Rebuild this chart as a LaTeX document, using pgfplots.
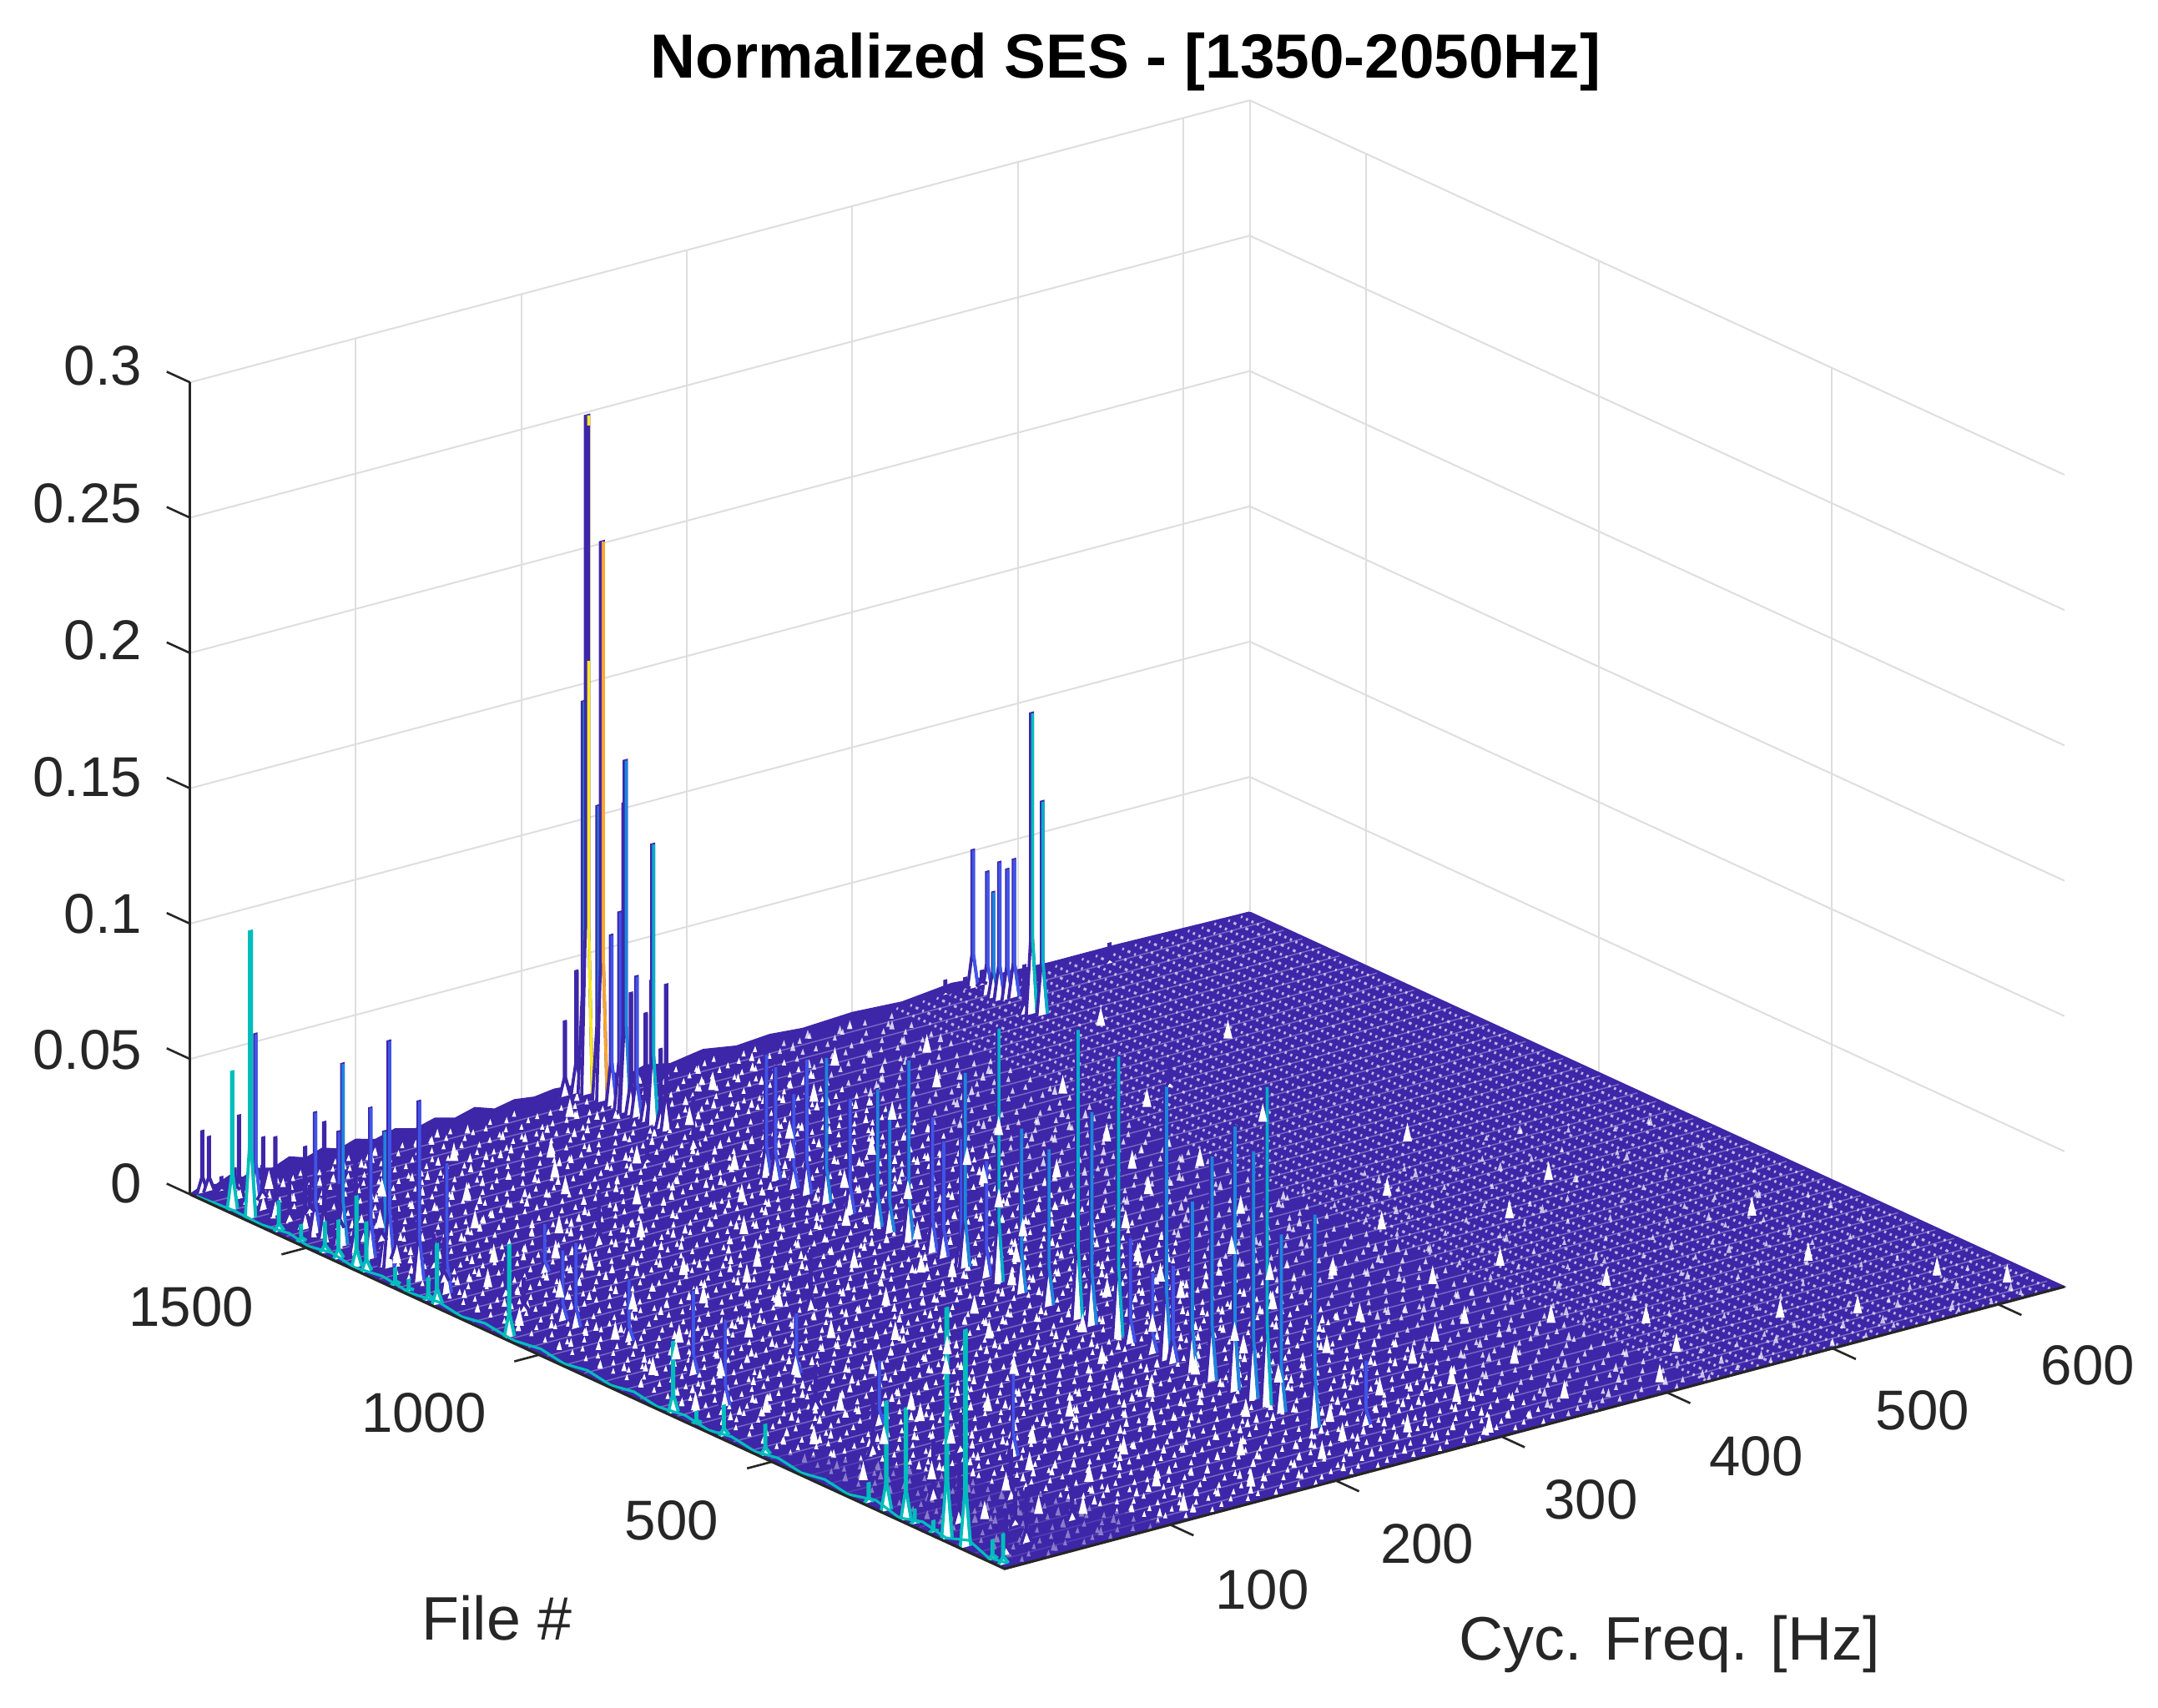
\documentclass[border=0pt]{standalone}
\usepackage{pgfplots}
\pgfplotsset{compat=1.18}
\usetikzlibrary{decorations.markings}
\usepackage{fontspec}
\setmainfont{Liberation Sans}
\definecolor{pur}{HTML}{3E26A8}
\definecolor{blu}{HTML}{3F55E8}
\definecolor{azu}{HTML}{1C86DE}
\definecolor{cya}{HTML}{02AFCB}
\definecolor{tea}{HTML}{00BDBD}
\definecolor{yel}{HTML}{F9E826}
\definecolor{org}{HTML}{F9A530}
\definecolor{axc}{HTML}{262626}
\definecolor{grd}{HTML}{DEDEDE}
% small upright white gaps along a line of constant x (line direction is 155.3 degrees on the page)
\newcommand{\gap}[2]{\fill[white,rotate=-155.3] (0,#1)--(#2,-.45*#1)--(-#2,-.45*#1)--cycle;}
\tikzset{
  f1/.style={dash pattern=on .45pt off .8pt},
  f2/.style={dash pattern=on .35pt off .9pt on .6pt off .85pt},
  gaps/.style n args={4}{postaction={decorate,decoration={markings,mark=between positions #2 and .995 step #1 with {\gap{.85pt}{.44pt}}}},
    postaction={decorate,decoration={markings,mark=between positions #3 and .995 step #4 with {\gap{1.25pt}{.56pt}}}}},
}
\begin{document}
\begin{tikzpicture}
\useasboundingbox (-73mm,-10.1mm) rectangle (83.8mm,114mm);
\begin{axis}[at={(0,0)},anchor=origin,clip=false,
  x={(0.12031mm,0.03203mm)},y={(-0.033829mm,0.015543mm)},z={(0mm,196.67mm)},
  xmin=0,xmax=640,ymin=0,ymax=1750,zmin=0,zmax=0.3,
  xtick={100,200,300,400,500,600},ytick={500,1000,1500},ztick={0,0.05,0.1,0.15,0.2,0.25,0.3},
  xticklabels={},yticklabels={},zticklabels={},
  major tick length=0pt,axis line style={draw=none},
  grid=major,grid style={grd,line width=.35pt}]
% floor
\addplot3[fill=pur,draw=pur,line width=.3pt] coordinates {(0,0,0)(640,0,0)(640,1750,0)(0,1750,0)};
% jagged back edge of the surface
\addplot3[fill=pur,draw=pur,line width=.3pt] coordinates {(0,1750,0)(8,1750,.002)(16,1750,.001)(24,1750,.003)(32,1750,.001)(40,1750,.003)(50,1750,.0015)(60,1750,.004)(70,1750,.002)(80,1750,.004)(90,1750,.002)(100,1750,.004)(112,1750,.002)(124,1750,.004)(136,1750,.002)(148,1750,.004)(160,1750,.002)(172,1750,.004)(184,1750,.0015)(196,1750,.003)(208,1750,.002)(220,1750,.003)(240,1750,.002)(252,1750,.004)(265,1750,.001)(275,1750,.003)(290,1750,.001)(310,1750,.003)(330,1750,.001)(350,1750,.002)(370,1750,.001)(400,1750,.002)(430,1750,.001)(460,1750,.003)(480,1750,.002)(520,1750,.001)(560,1750,.001)(640,1750,0)};
% fine lattice seen through the surface
\foreach \y in {30,70,110,150,190,230,270,310,350,390,430,470,510,550,590,630,670,710,750,790,830,870,910,950,990,1030,1070,1110,1150,1190,1230,1270,1310,1350,1390,1430,1470,1510,1550,1590,1630,1670,1710}{
  \edef\tmp{\noexpand\addplot3[white,opacity=.3,line width=.25pt] coordinates {(2,\y,0)(638,\y,0)};}\tmp}
\foreach \x/\s in {425/f1,433/f2,441/f1,449/f2,457/f1,465/f2,473/f1,481/f2,489/f1,497/f2,505/f1,513/f2,521/f1,529/f2,537/f1,545/f2,553/f1,561/f2,569/f1,577/f2,585/f1,593/f2,601/f1,609/f2,617/f1,625/f2,633/f1}{
  \edef\tmp{\noexpand\addplot3[white,opacity=.65,line width=.55pt,\s] coordinates {(\x,6,0)(\x,1744,0)};}\tmp}
\foreach \x/\a/\b/\c/\d in {428/7.1pt/.004/.02/31pt,447/8.3pt/.012/.05/37pt,466/7.7pt/.007/.03/29pt,485/9.1pt/.002/.07/41pt,504/8.6pt/.01/.01/33pt,523/9.7pt/.005/.06/39pt,542/10.3pt/.014/.04/35pt,561/9.3pt/.003/.08/43pt,580/11.1pt/.009/.025/37pt,599/10.7pt/.006/.09/45pt,618/12.1pt/.011/.035/41pt}{
  \edef\tmp{\noexpand\addplot3[draw=none,opacity=.7,gaps={\a}{\b}{\c}{\d}] coordinates {(\x,6,0)(\x,900,0)};}\tmp}
\foreach \x/\a/\b/\c/\d in {344/3.9pt/.004/.03/14pt,352/4.3pt/.009/.05/19pt,360/3.7pt/.002/.01/23pt,368/4.1pt/.011/.07/17pt,376/3.8pt/.006/.02/21pt,384/4.4pt/.003/.09/15pt,392/3.6pt/.012/.04/25pt,400/4.2pt/.007/.06/18pt,408/3.9pt/.001/.015/22pt,416/4.5pt/.01/.08/26pt}{
  \edef\tmp{\noexpand\addplot3[draw=none,opacity=.78,gaps={\a}{\b}{\c}{\d}] coordinates {(\x,6,0)(\x,1744,0)};}\tmp}
\foreach \x/\a/\b/\c/\d in {14/3.1pt/.004/.02/9.3pt,21/3.5pt/.01/.05/12.1pt,29/3.3pt/.002/.035/10.7pt,36/3.7pt/.007/.01/13.3pt,44/3.2pt/.012/.06/8.9pt,52/3.6pt/.005/.025/11.3pt,59/3.4pt/.009/.045/14.1pt,67/3.0pt/.003/.015/9.7pt,75/3.5pt/.011/.055/12.7pt,82/3.3pt/.006/.03/10.3pt,90/3.8pt/.001/.07/13.9pt,98/3.1pt/.008/.04/9.1pt,105/3.6pt/.013/.02/11.9pt,113/3.2pt/.004/.065/14.3pt,121/3.4pt/.01/.012/10.1pt,128/3.7pt/.002/.05/12.3pt,136/3.0pt/.007/.038/8.7pt,144/3.5pt/.012/.028/11.1pt,151/3.3pt/.005/.075/13.1pt,159/3.8pt/.009/.018/9.9pt,167/3.1pt/.003/.048/12.9pt,174/3.6pt/.011/.033/10.5pt,182/3.4pt/.006/.062/14.7pt,190/3.2pt/.001/.022/9.5pt,197/3.5pt/.008/.042/11.7pt,205/3.7pt/.013/.052/13.5pt,213/3.1pt/.004/.014/10.9pt,220/3.3pt/.01/.068/12.5pt,228/3.6pt/.002/.036/8.8pt,236/3.4pt/.007/.026/11.5pt,243/3.2pt/.012/.058/14.5pt,251/3.8pt/.005/.016/9.4pt,259/3.0pt/.009/.044/12.2pt,266/3.5pt/.003/.072/10.6pt,274/3.3pt/.011/.024/13.7pt,282/3.7pt/.006/.054/9.2pt,289/3.1pt/.001/.034/11.4pt,297/3.6pt/.008/.012/14.9pt,305/3.4pt/.013/.064/10.2pt,312/3.2pt/.004/.046/12.6pt,320/3.8pt/.01/.029/8.6pt,328/3.5pt/.002/.019/11.8pt,336/3.3pt/.007/.057/13.3pt}{
  \edef\tmp{\noexpand\addplot3[draw=none,gaps={\a}{\b}{\c}{\d}] coordinates {(\x,6,0)(\x,1744,0)};}\tmp}
% denser, darker part at the near corner
\addplot3[fill=pur,draw=none,opacity=.6] coordinates {(0,0,0)(100,0,0)(80,180,0)(40,420,0)(0,560,0)};
% larger white gaps at the foot of small peaks
\addplot3[only marks,white,mark=triangle*,mark size=1.05pt,mark options={solid,draw=none,fill=white,yscale=1.8,xscale=.75}] table[z expr=0.001,row sep=\\] {
x y\\
37 1712\\ 212 1688\\ 289 1655\\ 131 1649\\ 356 1631\\ 74 1601\\ 402 1597\\ 171 1583\\ 251 1570\\ 318 1541\\ 103 1522\\ 47 1509\\ 199 1498\\ 377 1487\\ 146 1463\\ 278 1451\\ 83 1433\\ 333 1426\\ 231 1402\\ 24 1391\\ 165 1377\\ 420 1369\\ 111 1352\\ 296 1339\\ 62 1318\\ 207 1301\\ 361 1297\\ 139 1276\\ 258 1262\\ 39 1249\\ 324 1233\\ 92 1218\\ 181 1204\\ 397 1193\\ 273 1179\\ 58 1162\\ 227 1148\\ 124 1131\\ 348 1126\\ 19 1110\\ 159 1097\\ 301 1083\\ 76 1069\\ 243 1052\\ 412 1046\\ 108 1031\\ 195 1017\\ 369 1004\\ 44 993\\ 286 978\\ 134 962\\ 217 951\\ 66 934\\ 332 921\\ 262 907\\ 97 895\\ 176 881\\ 388 873\\ 29 859\\ 241 842\\ 128 828\\ 309 813\\ 54 802\\ 203 787\\ 151 772\\ 351 761\\ 84 748\\ 268 733\\ 16 721\\ 429 716\\ 188 702\\ 114 689\\ 295 671\\ 41 658\\ 229 647\\ 142 631\\ 372 618\\ 71 606\\ 256 593\\ 168 578\\ 321 566\\ 99 553\\ 210 538\\ 33 527\\ 403 514\\ 280 502\\ 127 488\\ 60 473\\ 344 461\\ 193 449\\ 237 433\\ 86 421\\ 154 408\\ 305 393\\ 22 382\\ 382 371\\ 117 357\\ 262 344\\ 49 331\\ 178 318\\ 416 306\\ 329 294\\ 94 281\\ 221 268\\ 143 253\\ 68 239\\ 290 226\\ 368 214\\ 107 199\\ 249 187\\ 36 171\\ 187 158\\ 314 146\\ 129 133\\ 440 122\\ 78 109\\ 270 95\\ 215 83\\ 358 71\\ 165 58\\ 119 39\\ 301 30\\ 408 44\\ 452 230\\ 468 372\\ 444 515\\ 487 648\\ 459 811\\ 512 956\\ 473 1128\\ 441 1263\\ 529 1402\\ 491 1540\\ 566 287\\ 603 142\\ 541 92\\ 582 465\\ 534 731\\ 624 66\\ 508 141\\ 156 1521\\ 262 1392\\ 89 1281\\ 315 1166\\ 142 1059\\ 384 1092\\ 51 887\\ 225 913\\ 301 736\\ 159 689\\ 344 654\\ 93 512\\ 273 458\\ 201 402\\ 356 342\\ 61 144\\ 238 121\\ 327 203\\
};
% peaks: x, file, height, colour of the far side
\foreach \x/\y/\z/\cc in {
225/1745/.0275/pur,232/1745/.045/pur,235/1741/.1444/tea,235/1733/.2507/yel,235/1710/.1083/azu,235/1701/.2066/org,235/1681/.0628/blu,235/1663/.0727/blu,235/1654/.1137/tea,235/1651/.1297/azu,235/1639/.0447/pur,235/1627/.0518/blu,235/1607/.0397/pur,235/1595/.0528/pur,235/1592/.1034/cya,235/1575/.029/pur,235/1563/.0538/pur,
471/1744/.0508/blu,471/1713/.0452/blu,471/1700/.0387/azu,471/1687/.0508/blu,475/1684/.0478/blu,479/1684/.0508/blu,469/1626/.0178/pur,472/1621/.111/tea,475/1609/.0788/cya,467/1746/.004/pur,455/1746/.005/pur,477/1746/.005/pur,544/1710/.007/pur,
6/1745/.0226/pur,10/1745/.0198/pur,15/1736/.0048/pur,15/1698/.0306/pur,15/1663/.0635/blu,15/1646/.0266/pur,15/1620/.0287/pur,15/1590/.015/pur,15/1556/.0302/pur,15/1535/.0446/blu,15/1515/.0426/pur,15/1484/.0416/blu,15/1476/.0673/azu,15/1448/.0392/pur,15/1416/.0557/blu,15/1386/.0494/azu,15/1376/.0836/blu,15/1312/.0664/blu,15/1253/.0483/blu,
20/1725/.008/pur,24/1680/.012/pur,30/1600/.01/pur,28/1530/.016/pur,34/1460/.014/pur,26/1400/.018/pur,32/1340/.012/pur,24/1290/.016/pur,36/1200/.014/pur,30/1140/.012/pur,
230/1487/.019/pur,201/1483/.008/pur,114/1277/.02/pur,70/1238/.018/blu,37/1082/.026/blu,36/1050/.0315/blu,45/968/.023/blu,141/918/.022/pur,42/819/.031/blu,82/740/.0224/blu,28/701/.032/blu,71/523/.024/blu,96/324/.034/blu,257/139/.024/blu,464/1296/.0083/pur,
60/620/.016/pur,44/440/.02/pur,80/380/.014/pur,30/260/.022/pur,60/200/.018/pur,20/170/.024/pur,40/120/.012/pur,66/90/.016/pur,30/60/.02/pur,12/40/.014/pur,
235/1349/.045/blu,235/1329/.042/blu,235/1290/.035/blu,235/1262/.05/blu,235/1220/.054/azu,235/1169/.043/blu,235/1110/.051/azu,235/1084/.045/azu,235/1043/.067/azu,235/992/.05/blu,235/968/.043/blu,235/930/.047/blu,235/922/.072/azu,235/876/.043/blu,235/850/.094/cya,235/801/.061/azu,235/742/.058/azu,235/680/.107/cya,235/650/.079/azu,235/593/.104/cya,235/567/.039/blu,235/519/.03/blu,235/490/.101/azu,235/475/.036/blu,235/434/.063/azu,235/392/.083/azu,235/343/.098/azu,235/303/.092/azu,235/274/.118/cya,235/243/.066/azu,235/171/.079/azu,
3/1670/.051/tea,3/1631/.106/tea,3/1570/.011/tea,3/1522/.006/tea,3/1471/.011/tea,3/1442/.014/tea,3/1403/.026/tea,3/1382/.018/tea,3/1320/.006/tea,3/1291/.004/tea,3/1249/.008/tea,3/1230/.022/tea,3/1075/.034/tea,3/723/.026/tea,3/673/.004/tea,3/614/.011/tea,3/525/.011/tea,3/303/.007/tea,3/265/.04/tea,3/223/.041/tea,3/204/.005/tea,3/164/.004/tea,3/136/.027/tea,3/135/.085/tea,3/95/.08/tea,3/37/.007/tea,3/14/.011/tea}{
  \pgfmathsetmacro\dd{.25+3*\z}\pgfmathsetmacro\xa{\x-3.2}\pgfmathsetmacro\xb{\x-\dd}\pgfmathsetmacro\xc{\x+\dd}\pgfmathsetmacro\xd{\x+3.2}\pgfmathsetmacro\zm{.25*\z}
  \def\lc{pur}\ifdim\x pt<4pt\def\lc{tea}\fi
  \edef\tmp{\noexpand\addplot3[fill=white,draw=\lc,line width=.64pt] coordinates {(\xa,\y,0)(\xb,\y,\zm)(\xb,\y,\z)(\xc,\y,\z)(\xc,\y,\zm)(\xd,\y,0)};
  \noexpand\addplot3[draw=\cc,line width=.64pt] coordinates {(\xc,\y,\z)(\xc,\y,\zm)(\xd,\y,0)};}\tmp}
% upper part of the tallest peak reads purple, with only its tip yellow
\addplot3[pur,line width=.64pt] coordinates {(235.7,1733,.247)(235.7,1733,.16)};
% cyan rim along the near-left edge
\addplot3[tea,line width=.55pt] coordinates {(1,1740,0)(1,1660,.001)(1,1600,.0005)(1,1540,.002)(1,1500,.0005)(1,1450,.002)(1,1400,.0005)(1,1340,.002)(1,1280,.0005)(1,1220,.002)(1,1170,.0005)(1,1120,.002)(1,1060,.0005)(1,1000,.002)(1,950,.0005)(1,900,.002)(1,850,.0005)(1,800,.002)(1,750,.0005)(1,690,.002)(1,640,.0005)(1,590,.002)(1,540,.0005)(1,490,.002)(1,440,.0005)(1,390,.002)(1,340,.0005)(1,280,.003)(1,230,.0005)(1,180,.003)(1,130,.001)(1,80,.004)(1,40,.001)(1,0,.002)};
% axes as Matlab draws them: only the near floor edges and the left z line
\draw[grd,line width=.35pt] (axis cs:640,1750,0)--(axis cs:640,1750,.3);
\draw[axc,line width=.55pt] (axis cs:0,1750,0)--(axis cs:0,1750,.3);
\draw[axc,line width=.55pt] (axis cs:0,1750,0)--(axis cs:0,0,0)--(axis cs:640,0,0);
\foreach \v in {100,200,300,400,500,600}{\edef\tmp{\noexpand\draw[axc,line width=.45pt] (axis cs:\v,0,0)--(axis cs:\v,-50,0);}\tmp}
\foreach \v in {500,1000,1500}{\edef\tmp{\noexpand\draw[axc,line width=.45pt] (axis cs:0,\v,0)--(axis cs:-15,\v,0);}\tmp}
\foreach \v in {0,.05,.1,.15,.2,.25,.3}{\edef\tmp{\noexpand\draw[axc,line width=.45pt] (axis cs:0,1750,\v)--(axis cs:0,1800,\v);}\tmp}
\end{axis}
% all text: positions in mm from the near floor corner
\begin{scope}[every node/.style={text=axc,font=\fontsize{11.6}{14}\selectfont,inner sep=0pt}]
\node at (8.8mm,109.5mm) [font=\fontsize{12.9}{15}\selectfont\bfseries,text=black] {Normalized SES - [1350-2050Hz]};
\node[anchor=east] at (-62.6mm,87.4mm) {0.3};
\node[anchor=east] at (-62.6mm,77.4mm) {0.25};
\node[anchor=east] at (-62.6mm,67.5mm) {0.2};
\node[anchor=east] at (-62.6mm,57.5mm) {0.15};
\node[anchor=east] at (-62.6mm,47.6mm) {0.1};
\node[anchor=east] at (-62.6mm,37.7mm) {0.05};
\node[anchor=east] at (-62.6mm,28mm) {0};
\node at (-59.1mm,19mm) {1500};
\node at (-42.2mm,11.3mm) {1000};
\node at (-24.2mm,3.5mm) {500};
\node at (18.7mm,-1.5mm) {100};
\node at (30.7mm,1.8mm) {200};
\node at (42.6mm,5mm) {300};
\node at (54.6mm,8.2mm) {400};
\node at (66.7mm,11.5mm) {500};
\node at (78.7mm,14.8mm) {600};
\node[font=\fontsize{12.7}{15}\selectfont] at (-36.9mm,-3.6mm) {File \#};
\node[font=\fontsize{12.7}{15}\selectfont] at (48.3mm,-5.5mm) {Cyc. Freq. [Hz]};
\end{scope}
\end{tikzpicture}
\end{document}
